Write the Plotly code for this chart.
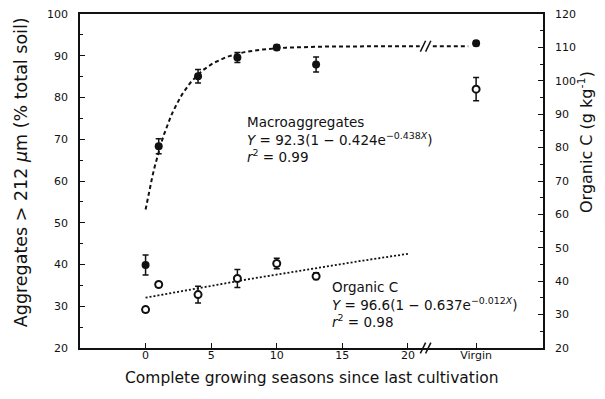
import numpy as np
import plotly.graph_objects as go

# ---- data ----
x_pos = [0, 1, 4, 7, 10, 13, 25.2]          # 25.2 = "Virgin" slot
macro_y = [39.9, 68.3, 85.1, 89.6, 92.0, 87.9, 93.0]
macro_err = [2.4, 1.8, 1.6, 1.2, 0.6, 1.8, 0.6]
orgc_y = [31.5, 39.0, 36.0, 40.8, 45.3, 41.5, 97.5]
orgc_err = [0.8, 0.8, 2.5, 2.7, 1.6, 1.0, 3.5]

tick_vals = [0, 5, 10, 15, 20, 25.2]
tick_text = ["0", "5", "10", "15", "20", "Virgin"]

# fitted models as printed on the chart
MAC_A, MAC_B, MAC_K = 92.3, 0.424, 0.438
ORG_A, ORG_B, ORG_K = 96.6, 0.637, 0.012

FONT = "DejaVu Sans"
INK = "#111111"

def mac_fit(x):
    return MAC_A * (1 - MAC_B * np.exp(-MAC_K * x))

def org_fit(x):
    return ORG_A * (1 - ORG_B * np.exp(-ORG_K * x))

xa = np.linspace(0, 20.9, 120)
xb = np.linspace(21.9, 24.6, 10)
xo = np.linspace(0, 20, 60)

fig = go.Figure()
fig.add_trace(go.Scatter(x=xa, y=mac_fit(xa), mode="lines",
                         line=dict(color=INK, width=2, dash="4px,3px"),
                         hoverinfo="skip", showlegend=False))
fig.add_trace(go.Scatter(x=xb, y=mac_fit(xb), mode="lines",
                         line=dict(color=INK, width=2, dash="4px,3px"),
                         hoverinfo="skip", showlegend=False))
fig.add_trace(go.Scatter(x=xo, y=org_fit(xo), mode="lines", yaxis="y2",
                         line=dict(color=INK, width=1.8, dash="2px,2px"),
                         hoverinfo="skip", showlegend=False))
fig.add_trace(go.Scatter(x=x_pos, y=macro_y, mode="markers",
                         marker=dict(symbol="circle", size=8, color=INK),
                         error_y=dict(type="data", array=macro_err, color=INK,
                                      thickness=1.5, width=3),
                         showlegend=False))
fig.add_trace(go.Scatter(x=x_pos, y=orgc_y, mode="markers", yaxis="y2",
                         marker=dict(symbol="circle", size=7, color="white",
                                     line=dict(color=INK, width=2)),
                         error_y=dict(type="data", array=orgc_err, color=INK,
                                      thickness=1.5, width=3),
                         showlegend=False))

axis_common = dict(showline=True, linecolor=INK, linewidth=1.5, ticks="inside",
                   tickcolor=INK, ticklen=5, tickwidth=1.3, showgrid=False,
                   zeroline=False, automargin=False, ticklabeloverflow="allow",
                   tickfont=dict(family=FONT, size=11, color=INK))

# page body has an 8px margin: figure is sized/offset to land the plot
# area at the reference's pixel box (80..543 x 14..348)
fig.update_layout(
    width=597, height=383,
    margin=dict(l=72, r=62, t=6, b=43),
    paper_bgcolor="white", plot_bgcolor="white",
    xaxis=dict(range=[-5, 30.3], tickvals=tick_vals, ticktext=tick_text,
               mirror=True, ticklabelstandoff=-4, **axis_common),
    yaxis=dict(range=[20, 100], dtick=10, ticklabelstandoff=8,
               minor=dict(ticks="inside", ticklen=3, tickcolor=INK, dtick=5),
               **axis_common),
    yaxis2=dict(range=[20, 120], dtick=10, overlaying="y", side="right",
                ticklabelstandoff=8,
                minor=dict(ticks="inside", ticklen=3, tickcolor=INK, dtick=5),
                **axis_common),
)

# axis titles
fig.add_annotation(text="Complete growing seasons since last cultivation",
                   xref="paper", yref="paper", x=0.5, y=-0.09,
                   xanchor="center", yanchor="middle",
                   showarrow=False, font=dict(family=FONT, size=15.5, color=INK))
fig.add_annotation(text="Aggregates > 212 <i>μ</i>m (% total soil)",
                   xref="paper", yref="paper", x=-0.127, y=0.527, textangle=-90,
                   xanchor="center", yanchor="middle",
                   showarrow=False, font=dict(family=FONT, size=17.5, color=INK))
fig.add_annotation(text="Organic C (g kg<sup>-1</sup>)",
                   xref="paper", yref="paper", x=1.093, y=0.617, textangle=-90,
                   xanchor="center", yanchor="middle",
                   showarrow=False, font=dict(family=FONT, size=16, color=INK))

# in-plot labels
fig.add_annotation(text="Macroaggregates<br><i>Y</i> = 92.3(1 − 0.424e<sup>−0.438<i>X</i></sup>)<br><i>r</i><sup>2</sup> = 0.99",
                   xref="x", yref="y", x=7.6, y=76.6, xanchor="left", yanchor="top",
                   align="left", showarrow=False,
                   font=dict(family=FONT, size=13.5, color=INK))
fig.add_annotation(text="Organic C<br><i>Y</i> = 96.6(1 − 0.637e<sup>−0.012<i>X</i></sup>)<br><i>r</i><sup>2</sup> = 0.98",
                   xref="x", yref="y", x=14.05, y=37.0, xanchor="left", yanchor="top",
                   align="left", showarrow=False,
                   font=dict(family=FONT, size=13.5, color=INK))

# break marks
BRK_X = 21.35
for dx in (-0.2, 0.2):
    fig.add_shape(type="line", xref="x", yref="y",
                  x0=BRK_X + dx - 0.2, x1=BRK_X + dx + 0.2,
                  y0=mac_fit(BRK_X) - 1.3, y1=mac_fit(BRK_X) + 1.3,
                  line=dict(color=INK, width=1.5))
    fig.add_shape(type="line", xref="x", yref="paper",
                  x0=BRK_X + dx - 0.2, x1=BRK_X + dx + 0.2,
                  y0=-0.016, y1=0.016,
                  line=dict(color=INK, width=1.5))

fig.write_html("out.html")
